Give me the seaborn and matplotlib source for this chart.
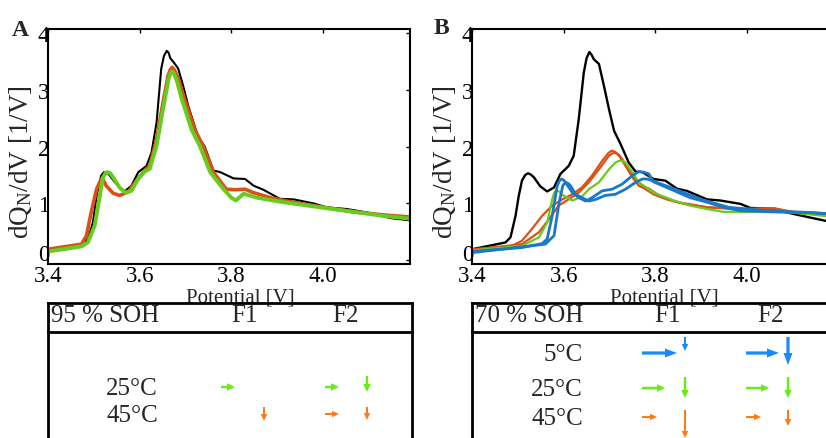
import numpy as np
import pandas as pd
import matplotlib
matplotlib.use("Agg")
import matplotlib.pyplot as plt
import matplotlib.transforms as mtransforms
import seaborn as sns

# ---------------- data ----------------
# Panel A (95 % SOH)
A_black_V = [3.400,3.473,3.487,3.498,3.506,3.516,3.522,3.527,3.534,3.546,3.567,3.582,3.597,3.615,3.626,3.637,3.647,3.653,3.659,3.663,3.667,3.675,3.684,3.695,3.706,3.727,3.742,3.761,3.776,3.805,3.830,3.849,3.870,3.906,3.936,3.979,4.008,4.052,4.096,4.147,4.190]
A_black_y = [0.19,0.28,0.37,0.66,1.13,1.49,1.55,1.55,1.50,1.37,1.21,1.31,1.55,1.66,1.90,2.43,3.37,3.60,3.69,3.66,3.56,3.48,3.38,3.07,2.72,2.19,2.00,1.58,1.55,1.44,1.43,1.31,1.24,1.08,1.07,1.00,0.93,0.90,0.84,0.74,0.70]

A_orange_V = [3.400,3.473,3.484,3.495,3.506,3.516,3.520,3.527,3.542,3.556,3.575,3.593,3.611,3.622,3.637,3.651,3.662,3.667,3.671,3.676,3.684,3.698,3.720,3.739,3.761,3.789,3.810,3.830,3.848,3.885,3.921,3.994,4.067,4.140,4.190]
A_orange_y = [0.19,0.28,0.43,0.87,1.25,1.43,1.42,1.31,1.18,1.14,1.20,1.40,1.58,1.66,2.13,2.78,3.25,3.36,3.40,3.35,3.21,2.84,2.31,2.00,1.55,1.25,1.24,1.25,1.19,1.10,1.04,0.94,0.85,0.79,0.76]

A_green_V = [3.400,3.473,3.487,3.502,3.513,3.520,3.526,3.530,3.536,3.542,3.556,3.569,3.582,3.597,3.611,3.622,3.637,3.651,3.663,3.667,3.671,3.675,3.680,3.692,3.713,3.732,3.754,3.780,3.800,3.810,3.827,3.856,3.906,3.994,4.067,4.140,4.190]
A_green_y = [0.15,0.24,0.31,0.61,1.13,1.46,1.54,1.55,1.53,1.46,1.28,1.19,1.22,1.43,1.56,1.61,2.02,2.66,3.19,3.29,3.33,3.29,3.19,2.84,2.31,2.00,1.55,1.28,1.10,1.05,1.17,1.10,1.03,0.93,0.85,0.77,0.73]

# Panel B (70 % SOH)
B_black_V = [3.400,3.473,3.484,3.495,3.502,3.509,3.516,3.522,3.528,3.535,3.549,3.564,3.579,3.593,3.611,3.622,3.633,3.644,3.650,3.656,3.661,3.666,3.677,3.688,3.699,3.710,3.724,3.742,3.757,3.772,3.796,3.822,3.847,3.869,3.913,3.942,3.986,4.007,4.059,4.081,4.132,4.190]
B_black_y = [0.19,0.31,0.40,0.78,1.13,1.40,1.50,1.53,1.51,1.46,1.30,1.21,1.28,1.52,1.66,1.84,2.49,3.31,3.56,3.67,3.62,3.54,3.46,3.07,2.66,2.28,2.05,1.72,1.56,1.55,1.43,1.40,1.26,1.22,1.07,1.05,0.99,0.92,0.90,0.85,0.76,0.66]

B_or1_V = [3.400,3.487,3.509,3.531,3.553,3.575,3.597,3.619,3.640,3.662,3.684,3.698,3.705,3.712,3.721,3.735,3.750,3.764,3.775,3.796,3.825,3.862,3.913,3.986,4.059,4.096,4.190]
B_or1_y = [0.19,0.25,0.34,0.55,0.78,0.96,1.07,1.16,1.28,1.49,1.75,1.89,1.93,1.91,1.84,1.66,1.46,1.31,1.27,1.16,1.07,0.99,0.93,0.90,0.91,0.84,0.78]

B_or2_V = [3.400,3.509,3.546,3.568,3.589,3.611,3.633,3.655,3.677,3.699,3.706,3.713,3.720,3.728,3.742,3.757,3.772,3.786,3.810,3.850,3.913,3.986,4.062,4.100,4.190]
B_or2_y = [0.18,0.28,0.49,0.72,0.96,1.07,1.19,1.37,1.60,1.84,1.88,1.89,1.86,1.78,1.60,1.43,1.31,1.26,1.13,1.02,0.93,0.90,0.91,0.85,0.78]

B_green_V = [3.400,3.509,3.546,3.564,3.575,3.580,3.584,3.590,3.597,3.619,3.640,3.655,3.677,3.699,3.713,3.721,3.728,3.735,3.750,3.764,3.775,3.796,3.840,3.876,3.913,3.949,4.022,4.096,4.190]
B_green_y = [0.17,0.25,0.40,0.66,1.07,1.20,1.23,1.21,1.15,1.05,1.12,1.25,1.37,1.60,1.72,1.75,1.75,1.72,1.55,1.37,1.31,1.19,1.05,0.96,0.90,0.85,0.85,0.84,0.76]

B_blue1_V = [3.400,3.509,3.553,3.564,3.575,3.586,3.591,3.595,3.600,3.604,3.619,3.633,3.648,3.662,3.684,3.706,3.728,3.750,3.764,3.775,3.786,3.796,3.825,3.876,3.913,3.949,3.986,4.059,4.132,4.190]
B_blue1_y = [0.15,0.22,0.29,0.37,0.78,1.31,1.40,1.43,1.41,1.37,1.19,1.10,1.04,1.10,1.22,1.25,1.34,1.49,1.56,1.55,1.52,1.38,1.28,1.10,1.02,0.93,0.87,0.85,0.84,0.81]

B_blue2_V = [3.400,3.560,3.579,3.589,3.598,3.604,3.610,3.615,3.626,3.640,3.655,3.670,3.691,3.713,3.735,3.757,3.772,3.782,3.793,3.840,3.900,3.960,4.059,4.132,4.190]
B_blue2_y = [0.13,0.28,0.43,0.96,1.31,1.37,1.35,1.31,1.16,1.10,1.04,1.07,1.14,1.16,1.25,1.37,1.43,1.43,1.40,1.26,1.07,0.93,0.86,0.84,0.81]

x_ticks = [3.4, 3.6, 3.8, 4.0]
x_ticklabels = ["3.4", "3.6", "3.8", "4.0"]
y_ticks = [0, 1, 2, 3, 4]
y_ticklabels = ["0", "1", "2", "3", "4"]

# Summary tables: arrow magnitudes (shift right / drop down)
A_title = "95 % SOH"
A_temps = ["25°C", "45°C"]
A_F1_shift = [14, 0]
A_F1_drop = [0, 14]
A_F2_shift = [14, 14]
A_F2_drop = [16, 13]

B_title = "70 % SOH"
B_temps = ["5°C", "25°C", "45°C"]
B_F1_shift = [35, 23, 15]
B_F1_drop = [14, 21, 28]
B_F2_shift = [33, 23, 15]
B_F2_drop = [28, 21, 16]

# ---------------- style ----------------
sns.set_style("white")
plt.rcParams['font.family'] = ['Liberation Serif', 'DejaVu Serif']
plt.rcParams['mathtext.fontset'] = 'custom'
plt.rcParams['mathtext.rm'] = 'Liberation Serif'
plt.rcParams['mathtext.it'] = 'Liberation Serif:italic'

C_BLACK = "#000000"
C_ORANGE = "#dc5018"
C_GREEN = "#66cc1e"
C_BLUE = "#1a78c8"
ARW = {"5°C": "#1a88ff", "25°C": "#66ee11", "45°C": "#ff7a14"}

W, H = 826, 439
fig = plt.figure(figsize=(W / 100, H / 100), dpi=100)


def px_axes(l, t, r, b):
    return fig.add_axes([l / W, 1 - b / H, (r - l) / W, (b - t) / H])


axA = px_axes(48, 30, 410, 265)
axB = px_axes(472, 30, 834, 265)


def draw(ax, curves):
    for V, y, c, lw in curves:
        df = pd.DataFrame({"V": V, "y": y})
        sns.lineplot(data=df, x="V", y="y", ax=ax, color=c, linewidth=lw,
                     sort=False, estimator=None)


draw(axA, [(A_black_V, A_black_y, C_BLACK, 1.5),
           (A_orange_V, A_orange_y, C_ORANGE, 2.6),
           (A_green_V, A_green_y, C_GREEN, 2.8)])
draw(axB, [(B_black_V, B_black_y, C_BLACK, 1.7),
           (B_or1_V, B_or1_y, C_ORANGE, 1.6),
           (B_or2_V, B_or2_y, C_ORANGE, 1.6),
           (B_green_V, B_green_y, C_GREEN, 1.6),
           (B_blue1_V, B_blue1_y, C_BLUE, 2.0),
           (B_blue2_V, B_blue2_y, C_BLUE, 2.0)])

ylab = "dQ$_\\mathrm{N}$/dV [1/V]"
for ax in (axA, axB):
    ax.set_xlim(3.4, 4.19)
    ax.set_ylim(-0.07, 4.076)
    ax.set_xticks(x_ticks)
    ax.set_xticklabels(x_ticklabels)
    ax.set_yticks(y_ticks)
    ax.set_yticklabels(y_ticklabels)
    ax.tick_params(direction="in", length=3, width=1, top=True, right=True,
                   labelsize=16.5, colors="black")
    ax.tick_params(axis="x", pad=0.5)
    ax.tick_params(axis="y", pad=-1)
    for s in ax.spines.values():
        s.set_color("black")
        s.set_linewidth(1.5)
    ax.set_xlabel("Potential [V]", fontsize=15, labelpad=0)
    ax.set_ylabel(ylab, fontsize=19.5)
    ax.xaxis.set_label_coords(0.53, -0.098)
    ax.yaxis.set_label_coords(-0.04, 0.44)
    ax.grid(False)
    # lift the "0" label a little, as in the original
    zero = ax.yaxis.get_major_ticks()[0].label1
    zero.set_transform(zero.get_transform() +
                       mtransforms.ScaledTranslation(0, 8 / 100, fig.dpi_scale_trans))

fig.text(12 / W, 1 - 36 / H, "A", fontsize=17, fontweight="bold", ha="left", va="baseline")
fig.text(434 / W, 1 - 34 / H, "B", fontsize=17, fontweight="bold", ha="left", va="baseline")

# ---------------- tables ----------------
ov = fig.add_axes([0, 0, 1, 1])
ov.set_xlim(0, W)
ov.set_ylim(H, 0)
ov.set_axis_off()
ov.patch.set_alpha(0)

LW = 2.0
FS = 18


def table(x0, x1, title, f1x, f2x):
    ov.plot([x0, x0], [304, H + 5], color="black", lw=LW, solid_capstyle="projecting")
    ov.plot([x0, x1], [304, 304], color="black", lw=LW, solid_capstyle="projecting")
    ov.plot([x0, x1], [333, 333], color="black", lw=LW, solid_capstyle="projecting")
    if x1 < W:
        ov.plot([x1, x1], [304, H + 5], color="black", lw=LW)
    ov.text(x0 + 3, 316, title, fontsize=FS, ha="left", va="center")
    ov.text(f1x, 316, "F1", fontsize=FS, ha="center", va="center")
    ov.text(f2x, 316, "F2", fontsize=FS, ha="center", va="center")


def arrow_style(temp):
    if temp == "5°C":
        return dict(width=3.2, head_width=9, head_length=12)
    if temp == "25°C":
        return dict(width=2.4, head_width=7.5, head_length=8)
    return dict(width=2.0, head_width=6.5, head_length=7)


def arrows(temps, ys, dtops, xr1, xd1, xr2, xd2, s1, d1, s2, d2, label_x):
    for i, t in enumerate(temps):
        ov.text(label_x, ys[i] + 1, t, fontsize=FS, ha="right", va="center")
        st = arrow_style(t)
        c = ARW[t]
        for xr, xd, s, d in ((xr1, xd1, s1[i], d1[i]), (xr2, xd2, s2[i], d2[i])):
            if s > 0:
                ov.arrow(xr, ys[i], s, 0, color=c, length_includes_head=True,
                         lw=0, **st)
            if d > 0:
                stD = dict(st)
                if t == "5°C" and d < 20:
                    stD = dict(width=2.0, head_width=6.5, head_length=7)
                ov.arrow(xd, dtops[i], 0, d, color=c, length_includes_head=True,
                         lw=0, **stD)


table(48, 412, A_title, 244, 345)
arrows(A_temps, [388, 415], [377, 408], 221, 264, 325, 367,
       A_F1_shift, A_F1_drop, A_F2_shift, A_F2_drop, 158)

table(472, W + 10, B_title, 667, 770)
arrows(B_temps, [354, 389, 418], [338, 378, 411], 642, 685, 746, 788,
       B_F1_shift, B_F1_drop, B_F2_shift, B_F2_drop, 583)

fig.savefig("out.png", dpi=100)
